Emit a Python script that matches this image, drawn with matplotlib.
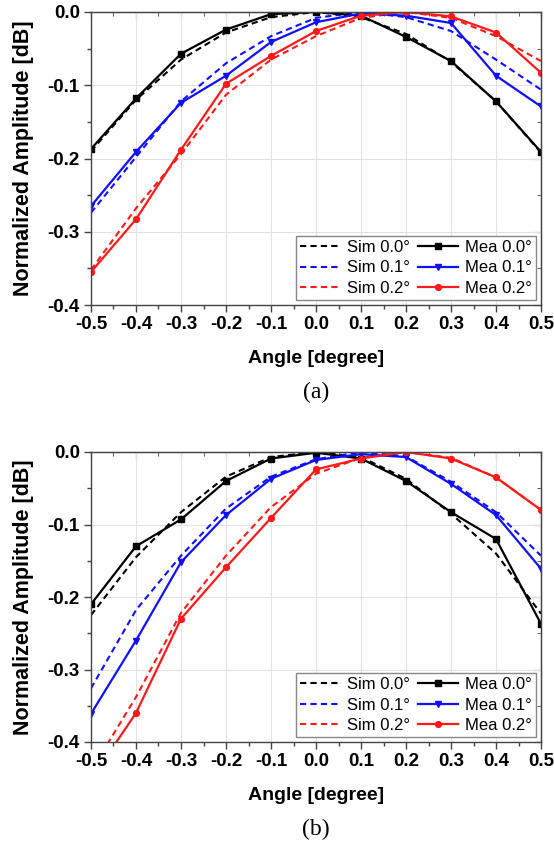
import matplotlib
matplotlib.use("Agg")
import matplotlib.pyplot as plt
from matplotlib.ticker import MultipleLocator
import numpy as np

plt.rcParams['font.family'] = ['Liberation Sans', 'DejaVu Sans']
plt.rcParams['axes.unicode_minus'] = False

angles = [-0.5, -0.4, -0.3, -0.2, -0.1, 0.0, 0.1, 0.2, 0.3, 0.4, 0.5]

# (a)
a_sim0 = [-0.190, -0.120, -0.065, -0.028, -0.007, 0.000, -0.007, -0.030, -0.068, -0.122, -0.192]
a_mea0 = [-0.187, -0.118, -0.057, -0.024, -0.003, 0.000, -0.005, -0.034, -0.067, -0.122, -0.191]
a_sim1 = [-0.274, -0.198, -0.122, -0.070, -0.033, -0.008, 0.000, -0.007, -0.026, -0.065, -0.106]
a_mea1 = [-0.265, -0.191, -0.124, -0.087, -0.041, -0.014, -0.002, -0.005, -0.015, -0.087, -0.129]
a_sim2 = [-0.352, -0.268, -0.194, -0.113, -0.065, -0.033, -0.008, 0.000, -0.008, -0.033, -0.067]
a_mea2 = [-0.355, -0.283, -0.188, -0.098, -0.060, -0.026, -0.005, 0.000, -0.006, -0.028, -0.083]

# (b)
b_sim0 = [-0.225, -0.145, -0.083, -0.034, -0.007, 0.000, -0.007, -0.037, -0.085, -0.140, -0.223]
b_mea0 = [-0.210, -0.130, -0.093, -0.040, -0.009, -0.001, -0.009, -0.040, -0.083, -0.120, -0.237]
b_sim1 = [-0.326, -0.218, -0.143, -0.078, -0.034, -0.010, 0.000, -0.006, -0.041, -0.083, -0.143]
b_mea1 = [-0.361, -0.260, -0.152, -0.087, -0.037, -0.011, -0.003, -0.007, -0.044, -0.087, -0.161]
b_sim2 = [-0.440, -0.338, -0.222, -0.143, -0.076, -0.030, -0.008, 0.000, -0.008, -0.035, -0.080]
b_mea2 = [-0.452, -0.360, -0.230, -0.159, -0.091, -0.024, -0.009, 0.000, -0.009, -0.035, -0.080]

sim_labels = ['Sim 0.0°', 'Sim 0.1°', 'Sim 0.2°']
mea_labels = ['Mea 0.0°', 'Mea 0.1°', 'Mea 0.2°']
colors = ['black', '#1010ff', '#ff1a1a']
markers = ['s', 'v', 'o']
xticks = [-0.5, -0.4, -0.3, -0.2, -0.1, 0.0, 0.1, 0.2, 0.3, 0.4, 0.5]
yticks = [-0.4, -0.3, -0.2, -0.1, 0.0]

W, H = 554, 844
fig = plt.figure(figsize=(W / 100, H / 100), dpi=100)

def make_axes(top_px, bot_px):
    l, r = 91, 541
    return fig.add_axes([l / W, 1 - bot_px / H, (r - l) / W, (bot_px - top_px) / H])

def draw(ax, sims, meas, caption, hpx):
    sim_h = []
    mea_h = []
    for i in range(3):
        h, = ax.plot(angles, sims[i], ls=(0, (3, 2)), color=colors[i], lw=1.5,
                     label=sim_labels[i])
        sim_h.append(h)
    for i in range(3):
        h, = ax.plot(angles, meas[i], ls='-', color=colors[i], lw=1.6,
                     marker=markers[i], ms=4.2, label=mea_labels[i])
        mea_h.append(h)
    ax.set_xlim(-0.5, 0.5)
    ax.set_ylim(-0.4, 0.0)
    ax.set_xticks(xticks)
    ax.set_yticks(yticks)
    ax.set_xticklabels([f'{v:.1f}' for v in xticks], fontweight='bold', fontsize=13.5)
    ax.set_yticklabels([f'{v:.1f}' for v in yticks], fontweight='bold', fontsize=13.5)
    ax.xaxis.set_minor_locator(MultipleLocator(0.05))
    ax.yaxis.set_minor_locator(MultipleLocator(0.05))
    ax.tick_params(which='major', direction='out', length=5, width=1, color='#444',
                   top=False, right=False, pad=3)
    ax.tick_params(which='minor', direction='out', length=3, width=1, color='#444',
                   top=False, right=False)
    ax.grid(True, which='major', color='#e2e2e2', lw=0.8)
    ax.set_axisbelow(True)
    for s in ax.spines.values():
        s.set_color('#444')
        s.set_linewidth(1.0)
    sx = ax.secondary_xaxis('top')
    sx.set_xticks(xticks)
    sx.xaxis.set_minor_locator(MultipleLocator(0.05))
    sx.tick_params(which='major', direction='in', length=5, color='#444', labeltop=False)
    sx.tick_params(which='minor', direction='in', length=3, color='#444', labeltop=False)
    sy = ax.secondary_yaxis('right')
    sy.set_yticks(yticks)
    sy.yaxis.set_minor_locator(MultipleLocator(0.05))
    sy.tick_params(which='major', direction='in', length=5, color='#444', labelright=False)
    sy.tick_params(which='minor', direction='in', length=3, color='#444', labelright=False)
    for s in list(sx.spines.values()) + list(sy.spines.values()):
        s.set_color('#444')
    ax.set_xlabel('Angle [degree]', fontweight='bold', fontsize=14, labelpad=12)
    ax.set_ylabel('Normalized Amplitude [dB]', fontweight='bold', fontsize=15.5, labelpad=10)
    leg = ax.legend(sim_h + mea_h, sim_labels + mea_labels, ncol=2, loc='lower right',
                    fontsize=12, frameon=True, fancybox=False, edgecolor='#888',
                    framealpha=1, handlelength=2.4, handletextpad=0.4,
                    columnspacing=0.5, labelspacing=0.32, borderpad=0.25,
                    borderaxespad=0.3)
    leg.get_frame().set_linewidth(1.0)
    ax.text(0.5, -87 / hpx, caption, transform=ax.transAxes, ha='center', va='center',
            fontsize=17, family='Liberation Serif')

ax1 = make_axes(12, 305)
draw(ax1, [a_sim0, a_sim1, a_sim2], [a_mea0, a_mea1, a_mea2], '(a)', 293)
ax2 = make_axes(452, 742)
draw(ax2, [b_sim0, b_sim1, b_sim2], [b_mea0, b_mea1, b_mea2], '(b)', 290)

fig.savefig('out.png', dpi=100)
